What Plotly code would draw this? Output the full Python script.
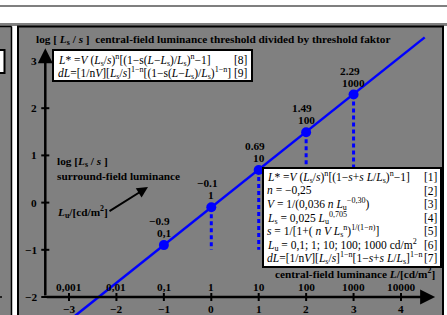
import plotly.graph_objects as go

W, H = 447, 315
GRAY = "#808080"
BLUE = "#0000ff"
FONT = "Liberation Serif"

# ---- data ----
log_lum = [-1, 0, 1, 2, 3]
lum_labels = ["0,1", "1", "10", "100", "1000"]
thresh = [-0.9, -0.1, 0.69, 1.49, 2.29]
value_labels = ["\u22120.9", "\u22120.1", "0.69", "1.49", "2.29"]
drop_log_lum = [0, 1, 2, 3]
drop_top = [-0.1, 0.69, 1.49, 2.29]
drop_bottom = -1.0
line_x = [-3.2, 4.5]
line_y = [-2.66, 3.5]
x_ticks = [-3, -2, -1, 0, 1, 2, 3, 4]
x_tick_text = ["\u22123", "\u22122", "\u22121", "0", "1", "2", "3", "4"]
x_top_text = ["0,001", "0,01", "0,1", "1", "10", "100", "1000", "10000"]
y_ticks = [-2, -1, 0, 1, 2, 3]
y_tick_text = ["\u22122", "\u22121", "0", "1", "2", "3"]
AX_X0, AX_Y0 = -3.5, -2.0
AX_X1, AX_Y1 = 4.72, 3.27

def P(x):
    return x / W

def Q(y):
    return 1 - y / H

fig = go.Figure()

# blue threshold line
fig.add_trace(go.Scatter(x=line_x, y=line_y, mode="lines",
                         line=dict(color=BLUE, width=2.5), hoverinfo="skip"))
# dotted drops
for xv, yt in zip(drop_log_lum, drop_top):
    fig.add_trace(go.Scatter(x=[xv, xv], y=[yt, drop_bottom], mode="lines",
                             line=dict(color=BLUE, width=3, dash="4px,3px"),
                             hoverinfo="skip"))
# dots
fig.add_trace(go.Scatter(x=log_lum, y=thresh, mode="markers",
                         marker=dict(color=BLUE, size=10), hoverinfo="skip"))

# axis ticks
tx, ty = [], []
for t in x_ticks:
    tx += [t, t, None]
    ty += [AX_Y0 - 0.085, AX_Y0 + 0.085, None]
for t in y_ticks:
    tx += [AX_X0 - 0.085, AX_X0 + 0.085, None]
    ty += [t, t, None]
fig.add_trace(go.Scatter(x=tx, y=ty, mode="lines",
                         line=dict(color="black", width=2), hoverinfo="skip"))

ann = []
# axis arrows
ann.append(dict(x=AX_X1, y=AX_Y0, ax=AX_X0, ay=AX_Y0, xref="x", yref="y",
                axref="x", ayref="y", text="", showarrow=True, arrowhead=2,
                arrowsize=1.2, arrowwidth=2.5, arrowcolor="black"))
ann.append(dict(x=AX_X0, y=AX_Y1, ax=AX_X0, ay=AX_Y0, xref="x", yref="y",
                axref="x", ayref="y", text="", showarrow=True, arrowhead=2,
                arrowsize=1.2, arrowwidth=2.5, arrowcolor="black"))

bold = dict(family=FONT, size=11.3, color="black")
reg = dict(family=FONT, size=11.5, color="black")

for t, lab, top in zip(x_ticks, x_tick_text, x_top_text):
    ann.append(dict(x=t, y=AX_Y0, xref="x", yref="y", text="<b>%s</b>" % lab,
                    showarrow=False, font=bold, yshift=-12))
    ann.append(dict(x=t, y=AX_Y0, xref="x", yref="y", text="<b>%s</b>" % top,
                    showarrow=False, font=bold, yshift=10))
for t, lab in zip(y_ticks, y_tick_text):
    ann.append(dict(x=AX_X0, y=t, xref="x", yref="y", text="<b>%s</b>" % lab,
                    showarrow=False, font=bold, xanchor="right", xshift=-6))

for xv, yv, vl, ll in zip(log_lum, thresh, value_labels, lum_labels):
    ann.append(dict(x=xv, y=yv, xref="x", yref="y", text="<b>%s</b>" % vl,
                    showarrow=False, font=bold, yshift=24, xshift=-4))
    ann.append(dict(x=xv, y=yv, xref="x", yref="y", text="<b>%s</b>" % ll,
                    showarrow=False, font=bold, yshift=12))

def txt(x, y, s, font, anchor="left"):
    ann.append(dict(x=P(x), y=Q(y), xref="paper", yref="paper", text=s,
                    showarrow=False, font=font, xanchor=anchor, yanchor="middle"))

Ls = "<i>L</i><sub>s</sub>"
txt(34, 40, "<b>log [ %s / <i>s</i> ]  central-field luminance threshold divided by threshold faktor</b>" % Ls, bold)
txt(55, 162, "<b>log [%s / <i>s</i> ]</b>" % Ls, bold)
txt(55, 176, "<b>surround-field luminance</b>", bold)
txt(55, 212, "<b><i>L</i><sub>u</sub>/[cd/m<sup>2</sup>]</b>", bold)
txt(437, 273, "<b>central-field luminance <i>L</i>/[cd/m<sup>2</sup>]</b>", bold, "right")

ann.append(dict(x=P(148), y=Q(187), ax=-40, ay=25, xref="paper",
                yref="paper", text="", showarrow=True, arrowhead=2,
                arrowsize=1.1, arrowwidth=2, arrowcolor="black"))

# top-left formula box
txt(56, 60, "<i>L</i>* =<i>V</i> (%s/<i>s</i>)<sup>n</sup>[(1\u2212s(<i>L</i>\u2212%s)/%s)<sup>n</sup>\u22121]" % (Ls, Ls, Ls), reg)
txt(249, 60, "[8]", reg, "right")
txt(56, 73, "<i>dL</i>=[1/n<i>V</i>][%s/<i>s</i>]<sup>1\u2212n</sup>[(1\u2212s(<i>L</i>\u2212%s)/%s)<sup>1\u2212n</sup>]" % (Ls, Ls, Ls), reg)
txt(249, 73, "[9]", reg, "right")

# right formula box
rows = [
    ("<i>L</i>* =<i>V</i> (%s/<i>s</i>)<sup>n</sup>[(1\u2212<i>s</i>+<i>s L</i>/%s)<sup>n</sup>\u22121]" % (Ls, Ls), "[1]"),
    ("<i>n</i> = \u22120,25", "[2]"),
    ("<i>V</i> = 1/(0,036 <i>n L</i><sub>u</sub><sup>\u22120,30</sup>)", "[3]"),
    ("%s = 0,025 <i>L</i><sub>u</sub><sup>0,705</sup>" % Ls, "[4]"),
    ("<i>s</i> = 1/[1+( <i>n V L</i><sub>s</sub><sup>n</sup>)<sup>1/(1\u2212<i>n</i>)</sup>]", "[5]"),
    ("<i>L</i><sub>u</sub> = 0,1; 1; 10; 100; 1000 cd/m<sup>2</sup>", "[6]"),
    ("<i>dL</i>=[1/n<i>V</i>][%s/<i>s</i>]<sup>1\u2212n</sup>[1\u2212<i>s</i>+<i>s L</i>/%s]<sup>1\u2212n</sup>" % (Ls, Ls), "[7]"),
]
ys = [177, 190.5, 204, 217.5, 231, 244.5, 258]
for (a, b), y in zip(rows, ys):
    txt(265, y, a, reg)
    txt(439, y, b, reg, "right")

shapes = [
    dict(type="rect", xref="paper", yref="paper", x0=0, x1=1, y0=Q(25), y1=1,
         fillcolor="white", line=dict(width=0), layer="above"),
    dict(type="line", xref="paper", yref="paper", x0=0, x1=1, y0=Q(6), y1=Q(6),
         line=dict(color="black", width=1.2), layer="above"),
    dict(type="line", xref="paper", yref="paper", x0=0, x1=1, y0=Q(24), y1=Q(24),
         line=dict(color="black", width=1.2), layer="above"),
    dict(type="rect", xref="paper", yref="paper", x0=P(12), x1=P(17), y0=0, y1=Q(26),
         fillcolor="white", line=dict(width=0), layer="above"),
    dict(type="rect", xref="paper", yref="paper", x0=P(444), x1=1, y0=0, y1=Q(26),
         fillcolor="white", line=dict(width=0), layer="above"),
    dict(type="line", xref="paper", yref="paper", x0=P(11.5), x1=P(11.5), y0=0, y1=Q(26.5),
         line=dict(color="black", width=1.5), layer="above"),
    dict(type="line", xref="paper", yref="paper", x0=0, x1=P(11.5), y0=Q(26.5), y1=Q(26.5),
         line=dict(color="black", width=1.5), layer="above"),
    dict(type="line", xref="paper", yref="paper", x0=0, x1=P(2), y0=Q(297), y1=Q(297),
         line=dict(color="black", width=1.5), layer="above"),
    dict(type="rect", xref="paper", yref="paper", x0=P(18), x1=P(443), y0=Q(330), y1=Q(26.5),
         line=dict(color="black", width=2), layer="above"),
    dict(type="rect", xref="paper", yref="paper", x0=P(-5), x1=P(4.5), y0=Q(73), y1=Q(50),
         fillcolor="white", line=dict(color="black", width=2), layer="above"),
    dict(type="rect", xref="paper", yref="paper", x0=P(53), x1=P(252), y0=Q(81), y1=Q(50),
         fillcolor="white", line=dict(color="black", width=2), layer="above"),
    dict(type="rect", xref="paper", yref="paper", x0=P(263), x1=P(441), y0=Q(267), y1=Q(168),
         fillcolor="white", line=dict(color="black", width=2), layer="above"),
]

fig.update_layout(
    width=W, height=H, margin=dict(l=0, r=0, t=0, b=0),
    paper_bgcolor=GRAY, plot_bgcolor=GRAY, showlegend=False,
    xaxis=dict(range=[-4.455, 4.970], visible=False, fixedrange=True),
    yaxis=dict(range=[-2.381, 4.292], visible=False, fixedrange=True),
    annotations=ann, shapes=shapes,
)
fig.write_html("out.html", config={"displayModeBar": False},
               post_script="document.body.style.margin='0';document.body.style.overflow='hidden';")
